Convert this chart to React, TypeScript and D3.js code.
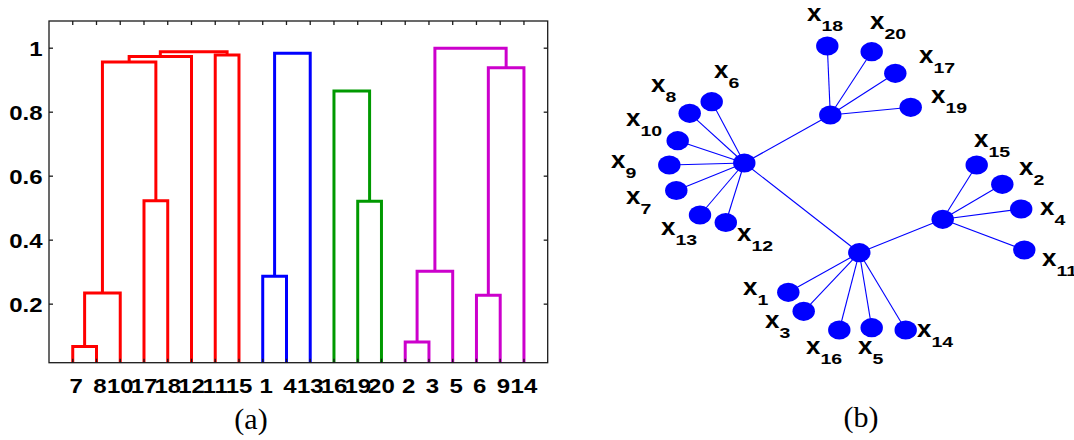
import React from 'react';
import * as d3 from 'd3';

// ---------- (a) dendrogram data ----------
const leafOrder = [7, 8, 10, 17, 18, 12, 11, 15, 1, 4, 13, 16, 19, 20, 2, 3, 5, 6, 9, 14];
// [id, left child, right child, height]
const merges: [string, string, string, number][] = [
  ['a1', '7', '8', 0.068],
  ['a2', 'a1', '10', 0.235],
  ['a3', '17', '18', 0.523],
  ['a4', 'a2', 'a3', 0.957],
  ['a5', 'a4', '12', 0.974],
  ['a6', '11', '15', 0.979],
  ['a7', 'a5', 'a6', 0.989],
  ['b1', '1', '4', 0.287],
  ['b2', 'b1', '13', 0.984],
  ['c1', '19', '20', 0.522],
  ['c2', '16', 'c1', 0.866],
  ['d1', '2', '3', 0.082],
  ['d2', 'd1', '5', 0.303],
  ['d3', '6', '9', 0.228],
  ['d4', 'd3', '14', 0.939],
  ['d5', 'd2', 'd4', 1.0],
];
const clusterKeys = ['a', 'b', 'c', 'd'];
const clusterColors = ['#ff0000', '#0000ff', '#009900', '#cc00cc'];
const yTicks = [0.2, 0.4, 0.6, 0.8, 1];
const yTickLabels = ['0.2', '0.4', '0.6', '0.8', '1'];

// ---------- (b) tree graph data ----------
const nodeIds = ['A', 'B', 'C', 'D', '6', '8', '10', '9', '7', '13', '12', '18', '20', '17', '19', '15', '2', '4', '11', '1', '3', '16', '5', '14'];
const nodeX = [74.43, 83.03, 94.27, 85.93, 71.17, 68.97, 67.77, 66.93, 67.63, 70.0, 72.58, 82.73, 87.17, 89.53, 91.07, 97.67, 100.23, 102.12, 102.43, 78.83, 80.37, 83.93, 87.17, 90.57];
const nodeY = [16.3, 11.5, 21.93, 25.27, 10.17, 11.33, 14.07, 16.5, 19.05, 21.5, 22.25, 4.6, 5.17, 7.33, 10.73, 16.5, 18.43, 20.9, 25.0, 29.23, 31.13, 33.0, 32.77, 33.0];
const parentOf = ['', 'A', 'D', 'A', 'A', 'A', 'A', 'A', 'A', 'A', 'A', 'B', 'B', 'B', 'B', 'C', 'C', 'C', 'C', 'D', 'D', 'D', 'D', 'D'];
const labelIds = ['6', '8', '10', '9', '7', '13', '12', '18', '20', '17', '19', '15', '2', '4', '11', '1', '3', '16', '5', '14'];
const labelX = [71.4, 65.1, 62.6, 61.1, 62.6, 66.1, 73.7, 80.7, 87.0, 91.9, 93.1, 97.4, 101.9, 104.0, 104.2, 74.3, 76.5, 80.6, 85.8, 91.7];
const labelY = [7.8, 9.2, 12.6, 16.8, 20.4, 23.5, 24.1, 2.1, 2.9, 6.3, 10.3, 14.7, 17.5, 21.5, 26.6, 29.5, 32.8, 35.4, 35.4, 33.7];

const SANS = '"Liberation Sans", Arial, Helvetica, sans-serif';
const SERIF = '"Liberation Serif", "Times New Roman", serif';

export default function App() {
  // dendrogram scales
  const plot = { left: 49, right: 547.7, top: 21, bottom: 362.7 };
  const x = d3.scaleLinear().domain([0, leafOrder.length + 1]).range([plot.left, plot.right]);
  const y = d3.scaleLinear().domain([0.017, 1.085]).range([plot.bottom, plot.top]);

  const pos: Record<string, { x: number; h: number }> = {};
  leafOrder.forEach((l, i) => { pos[String(l)] = { x: i + 1, h: 0 }; });
  merges.forEach(([id, l, r, h]) => { pos[id] = { x: (pos[l].x + pos[r].x) / 2, h }; });

  const linkPaths = merges.map(([id, l, r, h]) => {
    const p = d3.path();
    p.moveTo(x(pos[l].x), y(pos[l].h));
    p.lineTo(x(pos[l].x), y(h));
    p.lineTo(x(pos[r].x), y(h));
    p.lineTo(x(pos[r].x), y(pos[r].h));
    const color = clusterColors[clusterKeys.indexOf(id[0])];
    return { id, d: p.toString(), color };
  });

  // graph scales
  const gx = d3.scaleLinear().domain([60, 107.4]).range([600, 1074]);
  const gy = d3.scaleLinear().domain([0, 44]).range([0, 440]);
  const idx = (id: string) => nodeIds.indexOf(id);

  const tickLen = 4;
  const axisColor = '#1a1a1a';

  return (
    <svg width={1074} height={440} style={{ position: 'absolute', left: 0, top: 0, background: '#fff' }}>
      <defs>
        <clipPath id="plotclip">
          <rect x={plot.left} y={plot.top} width={plot.right - plot.left} height={plot.bottom - plot.top} />
        </clipPath>
      </defs>
      <rect width={1074} height={440} fill="#fff" />

      {/* ---------- (a) ---------- */}
      <g clipPath="url(#plotclip)">
        {linkPaths.map(lp => (
          <path key={lp.id} d={lp.d} fill="none" stroke={lp.color} strokeWidth={3} strokeLinejoin="miter" />
        ))}
      </g>
      {/* axes box */}
      <rect x={plot.left} y={plot.top} width={plot.right - plot.left} height={plot.bottom - plot.top} fill="none" stroke={axisColor} strokeWidth={1.3} />
      {/* y ticks */}
      {yTicks.map((t, i) => (
        <g key={'yt' + i}>
          <line x1={plot.left} x2={plot.left + tickLen} y1={y(t)} y2={y(t)} stroke={axisColor} strokeWidth={1.3} />
          <line x1={plot.right - tickLen} x2={plot.right} y1={y(t)} y2={y(t)} stroke={axisColor} strokeWidth={1.3} />
          <text transform={`translate(${plot.left - 6.5},${y(t) + 7.5}) scale(1.2,1)`} textAnchor="end"
            fontFamily={SANS} fontWeight="bold" fontSize={20} fill="#000">{yTickLabels[i]}</text>
        </g>
      ))}
      {/* x ticks and labels */}
      {leafOrder.map((l, i) => (
        <g key={'xt' + i}>
          <line x1={x(i + 1)} x2={x(i + 1)} y1={plot.top} y2={plot.top + tickLen} stroke={axisColor} strokeWidth={1.3} />
          <line x1={x(i + 1)} x2={x(i + 1)} y1={plot.bottom - tickLen} y2={plot.bottom} stroke={axisColor} strokeWidth={1.3} />
          <text transform={`translate(${x(i + 1)},393) scale(1.2,1)`} textAnchor="middle" style={{ whiteSpace: 'pre' }}
            fontFamily={SANS} fontWeight="bold" fontSize={20} fill="#000">{String(l).padStart(2, ' ')}</text>
        </g>
      ))}
      <text x={251} y={429} textAnchor="middle" fontFamily={SERIF} fontSize={30} fill="#000">(a)</text>

      {/* ---------- (b) ---------- */}
      {nodeIds.map((id, i) => parentOf[i] ? (
        <line key={'e' + id} x1={gx(nodeX[i])} y1={gy(nodeY[i])} x2={gx(nodeX[idx(parentOf[i])])} y2={gy(nodeY[idx(parentOf[i])])}
          stroke="#0000ff" strokeWidth={1.1} />
      ) : null)}
      {nodeIds.map((id, i) => (
        <ellipse key={'n' + id} cx={gx(nodeX[i])} cy={gy(nodeY[i])} rx={11.2} ry={9.6} fill="#0000ff" />
      ))}
      {labelIds.map((id, i) => (
        <g key={'l' + id}>
          <text transform={`translate(${gx(labelX[i])},${gy(labelY[i])}) scale(1.08,1)`}
            fontFamily={SANS} fontWeight="bold" fontSize={24} fill="#000">x</text>
          <text transform={`translate(${gx(labelX[i]) + 14.5},${gy(labelY[i]) + 9.5}) scale(1.3,1)`}
            fontFamily={SANS} fontWeight="bold" fontSize={15} fill="#000">{id}</text>
        </g>
      ))}
      <text x={861} y={427} textAnchor="middle" fontFamily={SERIF} fontSize={30} fill="#000">(b)</text>
    </svg>
  );
}
